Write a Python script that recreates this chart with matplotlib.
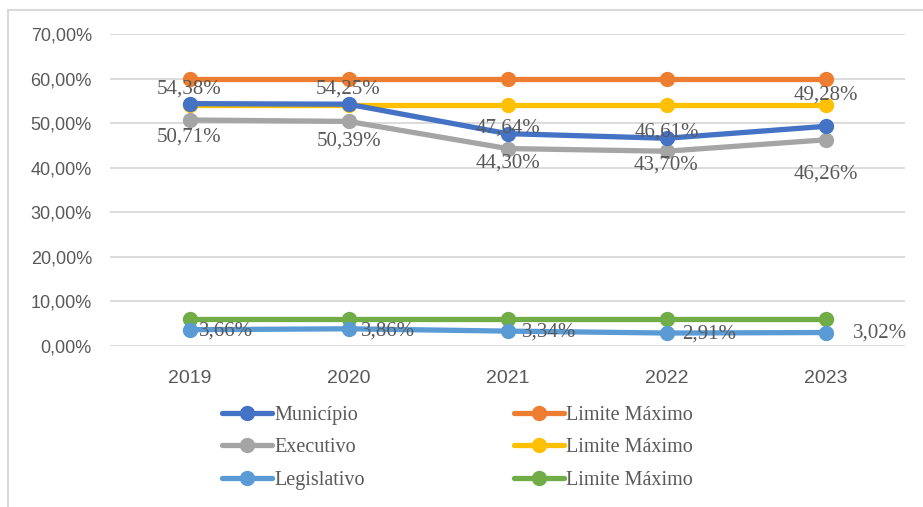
import matplotlib.pyplot as plt
from matplotlib.patches import Rectangle

# Dados
anos = ['2019', '2020', '2021', '2022', '2023']
municipio = [54.38, 54.25, 47.64, 46.61, 49.28]
executivo = [50.71, 50.39, 44.30, 43.70, 46.26]
legislativo = [3.66, 3.86, 3.34, 2.91, 3.02]
limite_municipio = [60, 60, 60, 60, 60]
limite_executivo = [54, 54, 54, 54, 54]
limite_legislativo = [6, 6, 6, 6, 6]

# Deslocamento dos rótulos (pixels)
desl_municipio = [(0, 15), (0, 15), (0, 6), (0, 6), (0, 31)]
desl_executivo = [(0, -17), (0, -20), (0, -14), (0, -14), (0, -34)]
desl_legislativo = [(9, -1), (12, -2), (14, -1), (16, -1), (27, -1)]


def fmt(v):
    return f'{v:.2f}'.replace('.', ',') + '%'


fig = plt.figure(figsize=(9.23, 5.07), dpi=100)
ax = fig.add_axes([110 / 923, 1 - 346 / 507, 795 / 923, 312 / 507])

x = list(range(len(anos)))
series = [
    (municipio, '#4472C4', 'Município'),
    (executivo, '#A5A5A5', 'Executivo'),
    (legislativo, '#5B9BD5', 'Legislativo'),
    (limite_municipio, '#ED7D31', 'Limite Máximo'),
    (limite_executivo, '#FFC000', 'Limite Máximo'),
    (limite_legislativo, '#70AD47', 'Limite Máximo'),
]
z = {'Município': 5, 'Executivo': 4, 'Legislativo': 4}
linhas = []
for vals, cor, nome in series:
    l, = ax.plot(x, vals, color=cor, lw=3.8, marker='o', markersize=10,
                 solid_capstyle='round', label=nome, zorder=z.get(nome, 3))
    linhas.append(l)

serif = ['Liberation Serif', 'DejaVu Serif']
for vals, desl, ha in [(municipio, desl_municipio, 'center'),
                       (executivo, desl_executivo, 'center'),
                       (legislativo, desl_legislativo, 'left')]:
    for i, v in enumerate(vals):
        dx, dy = desl[i]
        ax.annotate(fmt(v), (i, v), xytext=(dx * 0.72, dy * 0.72),
                    textcoords='offset points', ha=ha, va='center',
                    fontsize=15, color='#595959', family=serif, zorder=6)

ax.set_xlim(-0.5, 4.5)
ax.set_ylim(0, 70)
ax.set_yticks(range(0, 71, 10))
ax.set_yticklabels([f'{v},00%' for v in range(0, 71, 10)])
ax.set_xticks(x)
ax.set_xticklabels(anos)
ax.grid(axis='y', color='#D9D9D9', lw=1.3)
ax.set_axisbelow(True)
for s in ax.spines.values():
    s.set_visible(False)
ax.tick_params(length=0, colors='#595959')
ax.tick_params(axis='y', pad=13, labelsize=13)
ax.tick_params(axis='x', pad=17, labelsize=14)
for t in ax.get_xticklabels() + ax.get_yticklabels():
    t.set_family('Liberation Sans')

fig.legend(handles=linhas, ncol=2, loc='upper left',
           bbox_to_anchor=(222 / 923, 1 - 406 / 507), frameon=False,
           prop={'family': serif, 'size': 14.5}, handlelength=2.5,
           handletextpad=0.1, columnspacing=7.4, labelspacing=0.66,
           borderpad=0, borderaxespad=0, labelcolor='#595959')

# Moldura
fig.patches.append(Rectangle((8 / 923, -0.1), 1.0, 1 - 10 / 507 + 0.1,
                             transform=fig.transFigure, fill=False,
                             edgecolor='#D9D9D9', lw=1.5))

fig.savefig('out.png', dpi=100)
